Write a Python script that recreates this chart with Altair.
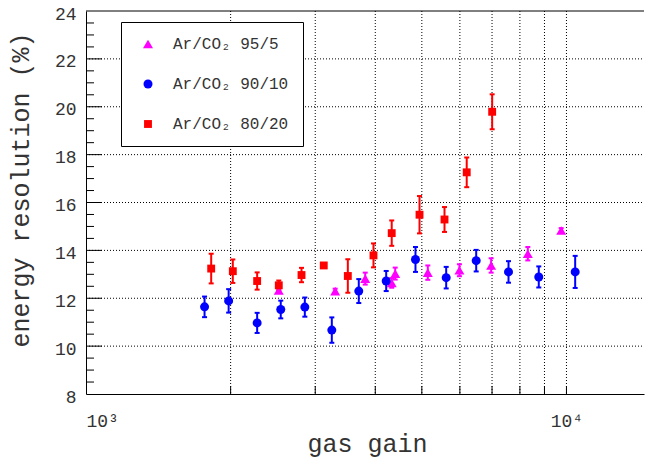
import altair as alt
import pandas as pd

# Ar/CO2 95/5
gain_95 = [2519, 3301, 3812, 4328, 4401, 5145, 5987, 6970, 8309, 9750]
res_95 = [12.33, 12.30, 12.82, 12.64, 13.03, 13.07, 13.17, 13.37, 13.86, 14.83]
err_95 = [0.10, 0.10, 0.25, 0.20, 0.25, 0.30, 0.25, 0.30, 0.28, 0.10]

# Ar/CO2 90/10
gain_90 = [1765, 1981, 2271, 2543, 2854, 3248, 3696, 4215, 4850, 5619, 6488, 7575, 8757, 10426]
res_90 = [11.64, 11.89, 10.97, 11.53, 11.63, 10.67, 12.30, 12.72, 13.62, 12.86, 13.57, 13.10, 12.89, 13.10]
err_90 = [0.43, 0.49, 0.42, 0.37, 0.40, 0.53, 0.50, 0.42, 0.52, 0.45, 0.45, 0.45, 0.44, 0.67]

# Ar/CO2 80/20
gain_80 = [1822, 2021, 2271, 2519, 2809, 3125, 3507, 3966, 4328, 4945, 5574, 6200, 7004]
res_80 = [13.24, 13.13, 12.72, 12.54, 12.97, 13.37, 12.93, 13.79, 14.72, 15.49, 15.29, 17.26, 19.79]
err_80 = [0.62, 0.49, 0.36, 0.20, 0.30, 0.10, 0.70, 0.50, 0.53, 0.78, 0.52, 0.62, 0.73]

mixes = ["Ar/CO₂ 95/5", "Ar/CO₂ 90/10", "Ar/CO₂ 80/20"]
colors = ["#ff00ff", "#0000ff", "#ff0000"]
shapes = ["triangle-up", "circle", "square"]
sizes = [100, 62, 85]

# axis decorations
x_grid = [2000, 3000, 4000, 5000, 6000, 7000, 8000, 9000, 10000]
y_grid = [10, 12, 14, 16, 18, 20, 22]
y_minor = [8.5, 9, 9.5, 10.5, 11, 11.5, 12.5, 13, 13.5, 14.5, 15, 15.5, 16.5, 17, 17.5,
           18.5, 19, 19.5, 20.5, 21, 21.5, 22.5, 23, 23.5]
y_labels = [8, 10, 12, 14, 16, 18, 20, 22, 24]
y_top = [24]

W, H = 558, 383
FONT = "Liberation Mono"
TEXT = "#333333"

rows = []
for name, g, r, e in zip(mixes, [gain_95, gain_90, gain_80], [res_95, res_90, res_80],
                         [err_95, err_90, err_80]):
    for gi, ri, ei in zip(g, r, e):
        rows.append({"mix": name, "gain": gi, "res": ri, "lo": ri - ei, "hi": ri + ei})
df = pd.DataFrame(rows)

xs = alt.Scale(type="log", domain=[1000, 14500], nice=False)
ys = alt.Scale(domain=[8, 24], nice=False, zero=False)
cs = alt.Scale(domain=mixes, range=colors)

x_axis = alt.Axis(
    values=[1000, 10000],
    labelExpr="datum.value == 1000 ? '10³' : '10⁴'",
    labelPadding=18, labelBaseline="top",
    title="gas gain", titleX=281, titleY=57, titleBaseline="alphabetic", titleAlign="center",
)
y_axis = alt.Axis(
    values=y_labels, labelPadding=10, labelOffset=3,
    title="energy resolution (%)", titleAngle=270, titleX=-58, titleY=21,
    titleAlign="right", titleBaseline="alphabetic",
)

legend = alt.Legend(
    orient="none", legendX=35, legendY=11, title=None,
    fillColor="white", strokeColor="black", padding=14, rowPadding=24,
    symbolSize=75, symbolOffset=5, labelOffset=17, symbolStrokeWidth=0, symbolOpacity=1,
    labelFont=FONT, labelFontSize=16, labelColor=TEXT, cornerRadius=0,
)


def xq(field):
    return alt.X(field, scale=xs, axis=x_axis)


def yq(field):
    return alt.Y(field, scale=ys, axis=y_axis)


def col():
    return alt.Color("mix:N", scale=cs, legend=legend)


grid_x = alt.Chart(pd.DataFrame({"gx": x_grid})).mark_rule(
    color="black", strokeWidth=1, strokeDash=[1, 2]
).encode(x=xq("gx:Q"), y=alt.value(0), y2=alt.value(H))

grid_y = alt.Chart(pd.DataFrame({"gy": y_grid})).mark_rule(
    color="black", strokeWidth=1, strokeDash=[1, 2]
).encode(y=yq("gy:Q"), x=alt.value(0), x2=alt.value(W))

tick_major = alt.Chart(pd.DataFrame({"gy": y_grid})).mark_rule(
    color="black", strokeWidth=1
).encode(y=yq("gy:Q"), x=alt.value(0), x2=alt.value(16))

tick_minor = alt.Chart(pd.DataFrame({"my": y_minor})).mark_rule(
    color="black", strokeWidth=1
).encode(y=yq("my:Q"), x=alt.value(0), x2=alt.value(8))

tick_x = alt.Chart(pd.DataFrame({"gx": x_grid})).mark_rule(
    color="black", strokeWidth=1
).encode(x=xq("gx:Q"), y=alt.value(H), y2=alt.value(H - 8))

frame_top = alt.Chart(pd.DataFrame({"ty": y_top})).mark_rule(
    color="black", strokeWidth=1
).encode(y=yq("ty:Q"), x=alt.value(0), x2=alt.value(W))

base = alt.Chart(df)

err_bars = base.mark_rule(strokeWidth=2).encode(
    x=xq("gain:Q"), y=yq("lo:Q"), y2="hi:Q", color=col(),
)
cap_lo = base.mark_tick(orient="horizontal", size=5, thickness=2, opacity=1).encode(
    x=xq("gain:Q"), y=yq("lo:Q"), color=col(),
)
cap_hi = base.mark_tick(orient="horizontal", size=5, thickness=2, opacity=1).encode(
    x=xq("gain:Q"), y=yq("hi:Q"), color=col(),
)

points = base.mark_point(filled=True, opacity=1, strokeWidth=0).encode(
    x=xq("gain:Q"),
    y=yq("res:Q"),
    color=col(),
    shape=alt.Shape("mix:N", scale=alt.Scale(domain=mixes, range=shapes), legend=legend),
    size=alt.Size("mix:N", scale=alt.Scale(domain=mixes, range=sizes), legend=None),
)

chart = alt.layer(
    grid_x, grid_y, tick_major, tick_minor, tick_x, frame_top,
    err_bars, cap_lo, cap_hi, points,
).properties(
    width=W, height=H,
    background="white",
    autosize=alt.AutoSizeParams(type="none"),
    padding={"left": 86, "top": 11, "right": 1, "bottom": 64},
).configure_view(
    stroke=None
).configure_axis(
    labelFont=FONT, labelFontSize=18, labelColor=TEXT,
    titleFont=FONT, titleFontSize=25, titleFontWeight="normal", titleColor=TEXT,
    domainColor="black", domainWidth=1, ticks=False, grid=False,
)

chart.save("out.html", embed_options={"renderer": "svg", "actions": False})
